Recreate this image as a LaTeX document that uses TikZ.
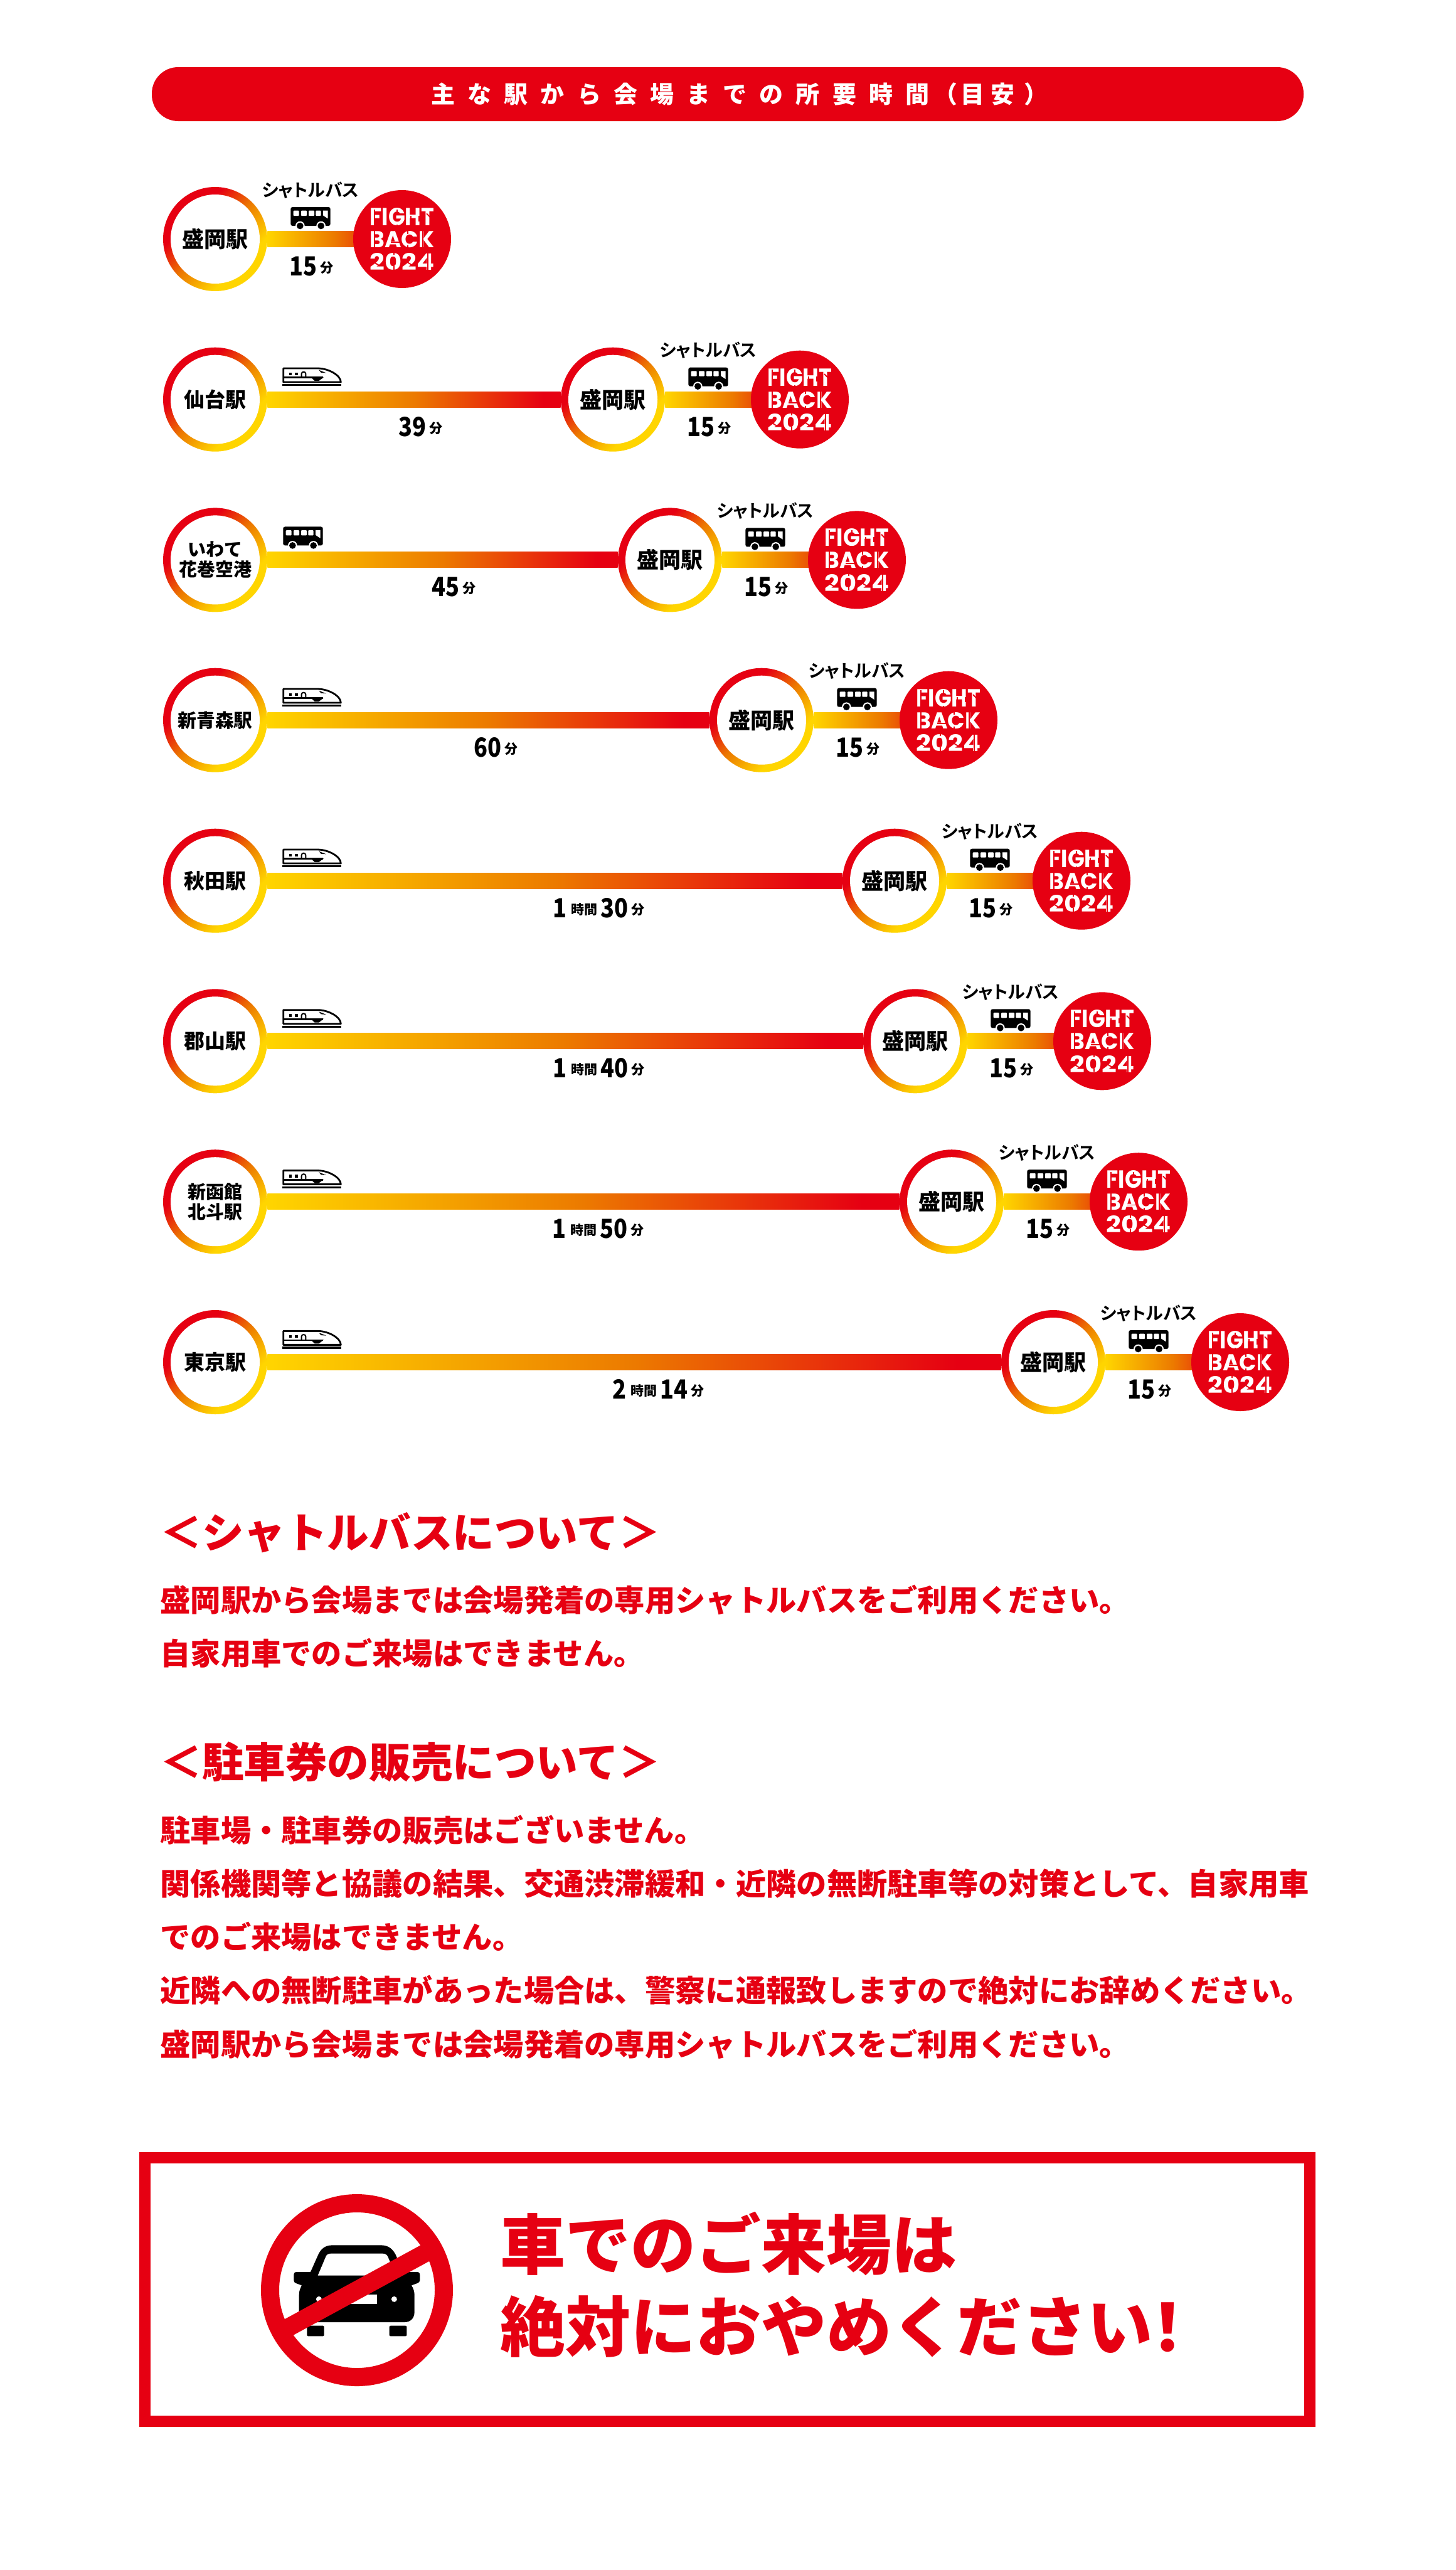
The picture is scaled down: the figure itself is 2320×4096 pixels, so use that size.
\documentclass[tikz,border=0pt]{standalone}
\usepackage{fontspec}
\usepackage{graphicx}
\usetikzlibrary{calc}
\IfFontExistsTF{Noto Sans CJK JP Black}{\def\heavyname{Noto Sans CJK JP Black}}{\def\heavyname{Noto Sans CJK JP Bold}}
\newfontfamily\jp{\heavyname}
\newfontfamily\jpb{Noto Sans CJK JP Bold}
\newfontfamily\jpp{Noto Sans CJK JP Bold}[RawFeature=+palt]
\newfontfamily\jpd{\heavyname}[FakeStretch=0.86]
\newfontfamily\jptitle{\heavyname}[LetterSpace=53]
\newfontfamily\logofont{Poppins}
\definecolor{brandred}{HTML}{E60012}
\definecolor{brandyel}{HTML}{FFD500}
\definecolor{brandorg}{HTML}{EC7A00}
\pgfdeclareverticalshading{ringgrad}{100bp}{color(0bp)=(brandyel); color(33bp)=(brandyel); color(50bp)=(brandorg); color(65bp)=(brandred); color(100bp)=(brandred)}
\pgfdeclarehorizontalshading{bargrad}{100bp}{color(0bp)=(brandyel); color(25bp)=(brandyel); color(50bp)=(brandorg); color(72bp)=(brandred); color(100bp)=(brandred)}
\tikzset{
  ringnode/.style={circle,inner sep=0pt,minimum size=83pt,shade,shading=ringgrad,shading angle=45,align=center,text=black,
    path picture={\fill[white] (path picture bounding box.center) circle (35.5pt);}},
  logonode/.style={circle,inner sep=0pt,minimum size=78pt,fill=brandred,text=white},
  bodyline/.style={anchor=base west,inner sep=0pt,text=brandred,font=\jp\fontsize{24.15pt}{24.15pt}\selectfont},
  headline/.style={anchor=base west,inner sep=0pt,text=brandred,font=\jp\fontsize{33.3pt}{33.3pt}\selectfont},
  bigline/.style={anchor=base west,inner sep=0pt,text=brandred,font=\jp\fontsize{52pt}{52pt}\selectfont},
  buslabel/.style={anchor=base,inner sep=0pt,font=\jpp\fontsize{14pt}{14pt}\selectfont},
  timelabel/.style={anchor=base,inner sep=0pt},
  stencilcut/.style={brandred,line width=.9pt},
  busicon/.pic={
    \begin{scope}[xscale=1/3,yscale=1/3]
      \fill[black,rounded corners=1.5pt] (25,15) rectangle (215,105);
      \fill[white,rounded corners=.5pt] (38,32) rectangle (65,57);
      \fill[white,rounded corners=.5pt] (75,32) rectangle (102,57);
      \fill[white,rounded corners=.5pt] (111,32) rectangle (138,57);
      \fill[white,rounded corners=.5pt] (145,32) rectangle (170,57);
      \fill[white] (180,32) -- (203,32) -- (203,70) -- (180,55) -- cycle;
      \fill[white] (70,105) circle (11pt);
      \fill[white] (170,105) circle (11pt);
      \fill[black] (70,105) circle (8pt);
      \fill[black] (170,105) circle (8pt);
    \end{scope}},
  trainicon/.pic={
    \begin{scope}[xscale=1/3,yscale=1/3]
      \draw[line width=1.4pt,line join=round] (35,22) -- (200,22) .. controls (250,22) and (310,55) .. (310,88) -- (35,88) -- cycle;
      \fill[black] (30,97) rectangle (312,107);
      \fill[black] (62,42) rectangle (75,55);
      \fill[black] (90,42) rectangle (105,55);
      \draw[line width=1pt] (122,65) -- (122,48) .. controls (122,36) and (142,36) .. (142,48) -- (142,65);
      \draw[line width=1.4pt] (38,66) -- (225,66);
      \fill[black] (170,68) -- (228,64) -- (205,82) -- (185,82) -- cycle;
      \fill[black] (205,30) -- (240,44) -- (215,42) -- cycle;
    \end{scope}},
  logocuts/.pic={
    \begin{scope}[xscale=1/3,yscale=1/3,shift={(-245,-240)}]
      \draw[stencilcut] (112,98) -- (112,185);
      \draw[stencilcut] (222,98) -- (222,112);
      \draw[stencilcut] (222,172) -- (222,185);
      \draw[stencilcut] (286,130) -- (286,155);
      \draw[stencilcut] (325,130) -- (325,155);
      \draw[stencilcut] (362,118) -- (380,136);
      \draw[stencilcut] (112,200) -- (112,285);
      \draw[stencilcut] (192,256) -- (232,256);
      \draw[stencilcut] (272,200) -- (272,215);
      \draw[stencilcut] (272,270) -- (272,285);
      \draw[stencilcut] (345,200) -- (345,285);
      \draw[stencilcut] (112,352) -- (138,368);
      \draw[stencilcut] (205,300) -- (205,316);
      \draw[stencilcut] (205,370) -- (205,387);
      \draw[stencilcut] (272,352) -- (298,368);
      \draw[stencilcut] (368,298) -- (368,388);
    \end{scope}},
  cariconpic/.pic={
    \begin{scope}[xscale=1/3,yscale=1/3]
      \fill[black] (215,423) -- (285,423) -- (322,340) .. controls (335,312) and (355,295) .. (390,295) -- (622,295) .. controls (657,295) and (677,312) .. (692,340) -- (728,423) -- (795,423) .. controls (805,423) and (808,430) .. (808,440) -- (808,462) .. controls (808,470) and (803,474) .. (795,477) -- (768,487) .. controls (778,505) and (782,515) .. (782,535) -- (782,615) .. controls (782,645) and (762,663) .. (735,663) -- (278,663) .. controls (250,663) and (230,645) .. (230,615) -- (230,535) .. controls (230,515) and (234,505) .. (243,487) -- (216,477) .. controls (208,474) and (205,470) .. (205,462) -- (205,440) .. controls (205,430) and (208,423) .. (215,423) -- cycle;
      \fill[white] (320,440) -- (358,350) .. controls (362,340) and (370,335) .. (382,335) -- (630,335) .. controls (642,335) and (650,340) .. (655,350) -- (692,440) -- cycle;
      \fill[white] (325,553) circle (6.7pt);
      \fill[white] (685,553) circle (6.7pt);
      \fill[white] (410,532) rectangle (603,575);
      \fill[black,rounded corners=1pt] (268,680) -- (350,680) -- (350,730) -- (268,730) -- cycle;
      \fill[black,rounded corners=1pt] (662,680) -- (745,680) -- (745,730) -- (662,730) -- cycle;
    \end{scope}}
}
\newcommand{\logotext}{\vbox{\logofont\bfseries\hbox{\resizebox{51.5pt}{14pt}{FIGHT}}\vskip3.5pt\hbox{\resizebox{51.5pt}{13pt}{BACK}}\vskip3.5pt\hbox{\resizebox{51.5pt}{13.5pt}{2024}}}}
\newcommand{\dg}[1]{{\jpd\fontsize{21pt}{21pt}\selectfont #1}}
\newcommand{\sm}[1]{\raisebox{2.6pt}{\jp\fontsize{10.5pt}{10.5pt}\selectfont #1}}
% #1 id, #2 row y, #3 Morioka x
\newcommand{\shuttleleg}[3]{
  \node[ringnode,font=\jp\fontsize{17.5pt}{20pt}\selectfont] (m#1) at (#3,#2) {盛岡駅};
  \coordinate (fc#1) at (#3+298,#2);
  \shade[shading=bargrad] ($(m#1.east)+(0,-12.5)$) rectangle ($(fc#1)+(0,12.5)$);
  \node[logonode] (f#1) at (fc#1) {\logotext};
  \pic at (fc#1) {logocuts};
  \pic at (#3+112,#2-56) {busicon};
  \node[buslabel] (bl#1) at (#3+152,#2-68) {シャトルバス};
  \node[timelabel] (t#1) at (#3+153,#2+58.5) {\dg{15}\kern2.5pt\sm{分}};
}
% #1 id, #2 row y, #3 Morioka x, #4 ring font, #5 ring text, #6 time cx, #7 time text
\newcommand{\mainleg}[7]{
  \node[ringnode,font=#4] (s#1) at (343,#2) {#5};
  \shuttleleg{#1}{#2}{#3}
  \shade[shading=bargrad] ($(s#1.east)+(0,-12.5)$) rectangle ($(m#1.west)+(0,12.5)$);
  \node[timelabel] (lt#1) at (#6,#2+58.5) {#7};
}
\newcommand{\fa}{\jp\fontsize{16.5pt}{18pt}\selectfont}
\newcommand{\fb}{\jp\fontsize{14.5pt}{16pt}\selectfont}
\newcommand{\fc}{\jp\fontsize{14.9pt}{18pt}\selectfont}
\newcommand{\hm}[3]{\dg{#1}\kern3.5pt\sm{#2}\kern2.5pt\dg{#3}\kern2.5pt\sm{分}}
\begin{document}
\begin{tikzpicture}[x=.5pt,y=-.5pt]
\useasboundingbox (0,0) rectangle (2320,4096);
\fill[white] (0,0) rectangle (2320,4096);
\node[fill=brandred,rounded corners=21pt,minimum width=918pt,minimum height=43pt,inner sep=0pt,text=white,font=\jptitle\fontsize{19pt}{19pt}\selectfont] (title) at (1160,150) {\kern19.1pt 主な駅から会場までの所要時間\kern3.5pt（\kern2.6pt目\kern5pt安\kern7.5pt）};

\shuttleleg{a}{381}{343}

\mainleg{b}{636.7}{977}{\fa}{仙台駅}{670}{\dg{39}\kern2.5pt\sm{分}}
\pic at (440,636.7-57) {trainicon};
\mainleg{c}{892.4}{1068}{\fb}{いわて\\花巻空港}{723}{\dg{45}\kern2.5pt\sm{分}}
\pic at (443,892.4-58) {busicon};
\mainleg{d}{1147.7}{1214}{\fc}{新青森駅}{790}{\dg{60}\kern2.5pt\sm{分}}
\pic at (440,1147.7-57) {trainicon};
\mainleg{e}{1403.7}{1426}{\fa}{秋田駅}{954}{\hm{1}{時間}{30}}
\pic at (440,1403.7-57) {trainicon};
\mainleg{g}{1659.3}{1459}{\fa}{郡山駅}{954}{\hm{1}{時間}{40}}
\pic at (440,1659.3-57) {trainicon};
\mainleg{h}{1915.2}{1517}{\fb}{新函館\\北斗駅}{953}{\hm{1}{時間}{50}}
\pic at (440,1915.2-57) {trainicon};
\mainleg{i}{2171}{1679}{\fa}{東京駅}{1049}{\hm{2}{時間}{14}}
\pic at (440,2171-57) {trainicon};

\node[headline] (h1) at (255,2467) {＜シャトルバスについて＞};
\node[bodyline] (p1) at (255,2568) {盛岡駅から会場までは会場発着の専用シャトルバスをご利用ください。};
\node[bodyline] (p2) at (255,2653) {自家用車でのご来場はできません。};
\node[headline] (h2) at (255,2833) {＜駐車券の販売について＞};
\node[bodyline] (p3) at (255,2935) {駐車場・駐車券の販売はございません。};
\node[bodyline] (p4) at (255,3020) {関係機関等と協議の結果、交通渋滞緩和・近隣の無断駐車等の対策として、自家用車};
\node[bodyline] (p5) at (255,3105) {でのご来場はできません。};
\node[bodyline] (p6) at (255,3190) {近隣への無断駐車があった場合は、警察に通報致しますので絶対にお辞めください。};
\node[bodyline] (p7) at (255,3276) {盛岡駅から会場までは会場発着の専用シャトルバスをご利用ください。};

\draw[brandred,line width=9pt] (231,3439) rectangle (2088,3859);
\pic at (400,3480) {cariconpic};
\draw[brandred,line width=14.5pt] (569,3650) circle (69.25pt);
\draw[brandred,line width=14.5pt] (569-125,3650+68) -- (569+125,3650-68);
\node[bigline] (b1) at (797,3616) {車でのご来場は};
\node[bigline] (b2) at (797,3747) {絶対におやめください\kern-14pt！};
\end{tikzpicture}
\end{document}
